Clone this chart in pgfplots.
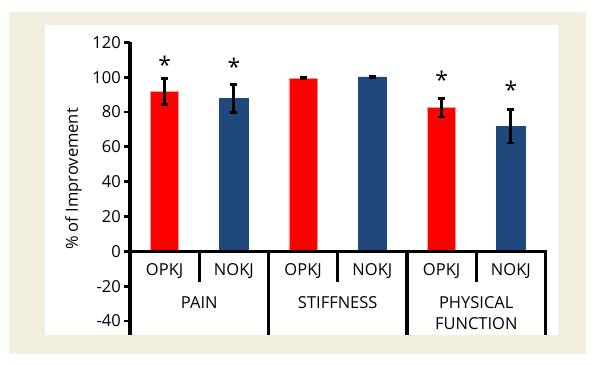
\documentclass[border=0pt]{standalone}
\usepackage{fontspec}
\setmainfont{Open Sans}
\usepackage{pgfplots}
\pgfplotsset{compat=1.18}
\definecolor{beige}{RGB}{242,239,222}
\definecolor{barred}{RGB}{255,0,0}
\definecolor{redline}{RGB}{255,150,150}
\definecolor{barblue}{RGB}{31,73,125}
\begin{document}
\begin{tikzpicture}[x=1pt,y=1pt,font=\fontsize{16.5}{20}\selectfont]
\fill[white] (0,0) rectangle (602,364);
\fill[beige] (9,10) rectangle (585.5,352);
\fill[white] (44.7,29) rectangle (557.6,339);
\begin{axis}[
  at={(130pt,29pt)}, anchor=south west,
  width=415.5pt, height=292.7pt, scale only axis,
  xmin=-0.5, xmax=5.5, ymin=-48, ymax=120,
  axis x line=none, axis y line*=left,
  y axis line style={line width=3.4pt, black},
  ytick={-40,-20,0,20,40,60,80,100,120},
  yticklabels={-40,-20,0,20,40,60,80,100,120},
  tick align=outside, major tick length=6pt,
  ytick style={line width=2.8pt, black},
  yticklabel style={inner sep=3pt},
  clip=false,
]
\addplot[ybar, bar width=0.41, bar shift=0pt, fill=barred, draw=redline, line width=0.8pt,
  error bars/.cd, y dir=both, y explicit,
  error bar style={line width=2.8pt, black},
  error mark options={rotate=90, mark size=3.6pt, line width=2.8pt, black}]
coordinates {(0,91.7) +- (0,7.4) (2,99.5) +- (0,0.5) (4,82.4) +- (0,5.3)};
\addplot[ybar, bar width=0.41, bar shift=0pt, fill=barblue, draw=barblue, line width=0.4pt,
  error bars/.cd, y dir=both, y explicit,
  error bar style={line width=2.8pt, black},
  error mark options={rotate=90, mark size=3.6pt, line width=2.8pt, black}]
coordinates {(1,87.8) +- (0,8.1) (3,100.2) +- (0,0.3) (5,71.8) +- (0,9.6)};
\addplot[draw=none, mark=none, nodes near coords={*},
  every node near coord/.append style={anchor=base, inner sep=0pt, font=\fontsize{23}{23}\selectfont}]
coordinates {(0,102) (1,101) (4,93.5) (5,88)};
\draw[line width=3.4pt] (axis cs:-0.56,0) -- (axis cs:5.52,0);
\draw[line width=3.4pt] (axis cs:1.5,0) -- (axis cs:1.5,-48);
\draw[line width=3.4pt] (axis cs:3.5,0) -- (axis cs:3.5,-48);
\draw[line width=3.4pt] (axis cs:5.5,0) -- (axis cs:5.5,-48);
\draw[line width=3.4pt] (axis cs:0.5,0) -- (axis cs:0.5,-17.7);
\draw[line width=3.4pt] (axis cs:2.5,0) -- (axis cs:2.5,-17.7);
\draw[line width=3.4pt] (axis cs:4.5,0) -- (axis cs:4.5,-17.7);
\node at (axis cs:0,-11.4) {OPKJ};
\node at (axis cs:1,-11.4) {NOKJ};
\node at (axis cs:2,-11.4) {OPKJ};
\node at (axis cs:3,-11.4) {NOKJ};
\node at (axis cs:4,-11.4) {OPKJ};
\node at (axis cs:5,-11.4) {NOKJ};
\node at (axis cs:0.5,-29.3) {PAIN};
\node at (axis cs:2.5,-29.3) {STIFFNESS};
\node at (axis cs:4.5,-29.3) {PHYSICAL};
\node at (axis cs:4.5,-41.3) {FUNCTION};
\end{axis}
\node[rotate=90] at (73.5,185) {\% of Improvement};
\end{tikzpicture}
\end{document}
